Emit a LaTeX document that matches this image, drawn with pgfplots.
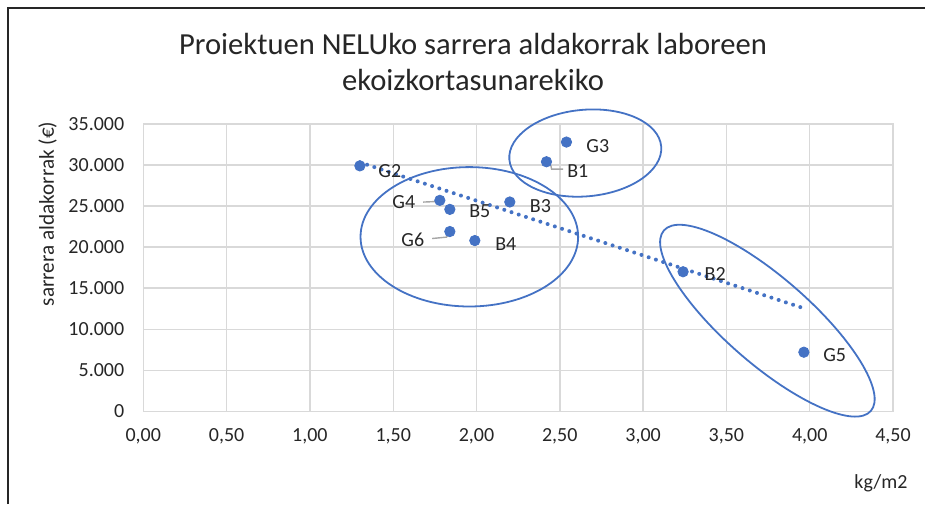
\documentclass[border=0pt]{standalone}
\usepackage{fontspec}
\setmainfont{Carlito}
\usepackage{pgfplots}
\pgfplotsset{compat=1.18}
\usetikzlibrary{shapes.geometric}

\definecolor{xlblue}{HTML}{4472C4}
\definecolor{gridgray}{HTML}{D9D9D9}
\definecolor{txt}{HTML}{262626}
\definecolor{leader}{HTML}{A6A6A6}

\pgfplotstableread{
x      y
1.30   29900
2.54   32800
2.42   30400
1.78   25700
1.84   24600
2.20   25500
1.84   21900
1.99   20800
3.24   17000
3.965  7200
}\points

\begin{document}
\begin{tikzpicture}[x=1pt,y=1pt]
\useasboundingbox (-71.65,-46.35) rectangle (390.85,205.65);
% chart frame (only left and top edges are visible)
\draw[black!85, line width=1.3pt] (-67.65,-46.35) -- (-67.65,201.65) -- (390.85,201.65);

\begin{axis}[
    at={(0,0)}, anchor=south west,
    scale only axis, width=374.85pt, height=143.65pt,
    xmin=0, xmax=4.5, ymin=0, ymax=35000,
    xtick={0,0.5,1,1.5,2,2.5,3,3.5,4,4.5},
    ytick={0,5000,10000,15000,20000,25000,30000,35000},
    scaled x ticks=false, scaled y ticks=false,
    grid=major, grid style={gridgray, line width=0.7pt},
    axis line style={gridgray, line width=0.7pt},
    major tick length=0pt,
    clip=false,
    /pgf/number format/assume math mode=true,
    tick label style={font=\fontsize{10}{12}\selectfont, text=txt},
    xticklabel style={yshift=-5pt, /pgf/number format/.cd, fixed, fixed zerofill, precision=2, use comma},
    yticklabel style={xshift=-6pt, /pgf/number format/.cd, fixed, 1000 sep={.}},
]
\addplot[xlblue, line width=2pt, line cap=round, dash pattern=on 0pt off 3.8pt]
    coordinates {(1.30,30330) (3.965,12550)};
\addplot[only marks, mark=*, mark size=2.6pt, mark options={draw=xlblue, fill=xlblue}]
    table[x=x, y=y] {\points};

% groups
\node[draw=xlblue, line width=0.9pt, ellipse, inner sep=0pt,
      minimum width=76.2pt, minimum height=43.3pt, rotate=5] at (axis cs:2.653,31460) {};
\node[draw=xlblue, line width=0.9pt, ellipse, inner sep=0pt,
      minimum width=108.8pt, minimum height=69.7pt] at (axis cs:1.957,21260) {};
\node[draw=xlblue, line width=0.9pt, ellipse, inner sep=0pt,
      minimum width=137.3pt, minimum height=43pt, rotate=-41.1] at (axis cs:3.746,11040) {};

% leader lines
\draw[leader, line width=0.7pt] (axis cs:2.445,30040) -- (axis cs:2.451,29510) -- (axis cs:2.520,29510);
\draw[leader, line width=0.7pt] (axis cs:1.680,25490) -- (axis cs:1.764,25560);
\draw[leader, line width=0.7pt] (axis cs:1.734,21050) -- (axis cs:1.820,21220) -- (axis cs:1.844,21860);

% data labels
\begin{scope}[every node/.style={font=\fontsize{10}{12}\selectfont, text=txt}]
\node at (axis cs:2.728,32350) {G3};
\node at (axis cs:2.608,29300) {B1};
\node at (axis cs:1.480,29300) {G2};
\node at (axis cs:1.564,25440) {G4};
\node at (axis cs:2.020,24340) {B5};
\node at (axis cs:2.384,24950) {B3};
\node at (axis cs:1.618,20890) {G6};
\node at (axis cs:2.176,20320) {B4};
\node at (axis cs:3.433,16740) {B2};
\node at (axis cs:4.150,6870) {G5};
\end{scope}
\end{axis}

\node[align=center, font=\fontsize{15.3}{18}\selectfont, text=txt] at (164.85,174.65)
    {Proiektuen NELUko sarrera aldakorrak laboreen\\ekoizkortasunarekiko};
\node[rotate=90, font=\fontsize{10.6}{12}\selectfont, text=txt] at (-47.9,98.65) {sarrera aldakorrak (€)};
\node[font=\fontsize{10}{12}\selectfont, text=txt] at (368.85,-35.85) {kg/m2};
\end{tikzpicture}
\end{document}
